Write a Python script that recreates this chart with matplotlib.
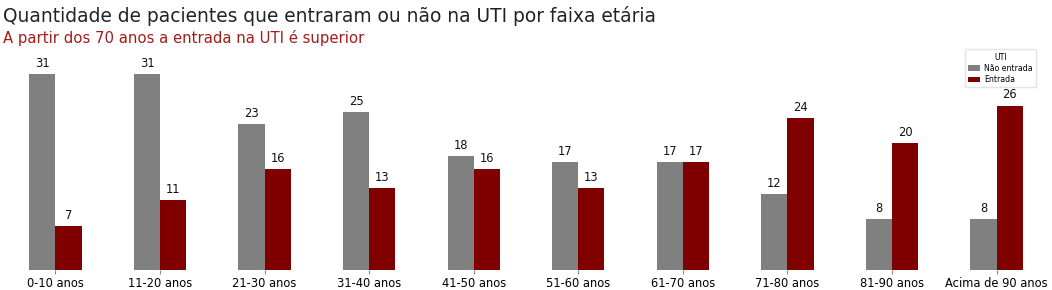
import matplotlib.pyplot as plt
import numpy as np

faixas = ['0-10 anos', '11-20 anos', '21-30 anos', '31-40 anos', '41-50 anos',
          '51-60 anos', '61-70 anos', '71-80 anos', '81-90 anos', 'Acima de 90 anos']
nao_entrada = [31, 31, 23, 25, 18, 17, 17, 12, 8, 8]
entrada = [7, 11, 16, 13, 16, 13, 17, 24, 20, 26]

fig = plt.figure(figsize=(10.52, 2.9), dpi=100)
ax = fig.add_axes([0.003, 0.069, 0.994, 0.71])

x = np.arange(len(faixas))
w = 0.25
b1 = ax.bar(x - w / 2, nao_entrada, w, color='grey', label='Não entrada')
b2 = ax.bar(x + w / 2, entrada, w, color='maroon', label='Entrada')

for barras in (b1, b2):
    for b in barras:
        ax.annotate(str(int(b.get_height())), (b.get_x() + b.get_width() / 2, b.get_height()),
                    xytext=(0, 3), textcoords='offset points', ha='center', va='bottom',
                    fontsize=8.3, color='#111111')

ax.set_xlim(-0.5, len(faixas) - 0.5)
ax.set_ylim(0, 32.55)
ax.set_xticks(x)
ax.set_xticklabels(faixas, fontsize=8.3)
ax.tick_params(axis='x', length=3, color='#888888', pad=2)
ax.set_yticks([])
for s in ax.spines.values():
    s.set_visible(False)

leg = ax.legend(title='UTI', fontsize=5.6, title_fontsize=5.6, loc='upper right',
                bbox_to_anchor=(0.9915, 1.09), frameon=True, handlelength=1.5,
                labelspacing=0.3, borderpad=0.4, handletextpad=0.6)
leg.get_frame().set_edgecolor('#dddddd')

fig.text(0.003, 0.978, 'Quantidade de pacientes que entraram ou não na UTI por faixa etária',
         fontsize=13.4, color='#222222', va='top')
fig.text(0.003, 0.895, 'A partir dos 70 anos a entrada na UTI é superior',
         fontsize=10.7, color='#a31b1b', va='top')

fig.savefig('out.png', dpi=100)
